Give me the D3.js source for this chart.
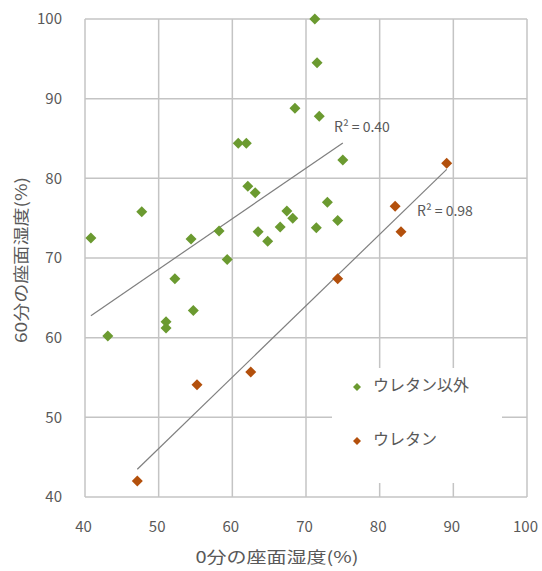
<!DOCTYPE html>
<html><head><meta charset="utf-8">
<script src="https://cdn.jsdelivr.net/npm/d3@7"></script>
<style>
html,body{margin:0;padding:0;background:#fff;}
text{font-family:"Noto Sans CJK JP","Noto Sans",sans-serif;fill:#595959;}
</style></head>
<body><svg id="c" width="542" height="571"></svg>
<script>
// ---- data ----
const seriesNames = ["ウレタン以外", "ウレタン"];
const otherX = [40.8,47.7,43.1,52.2,54.4,54.7,51.0,51.0,58.2,59.3,62.1,63.1,63.5,64.8,66.5,67.4,68.2,71.4,72.9,74.3,71.2,71.5,68.5,71.8,75.0,60.8,61.9];
const otherY = [72.5,75.8,60.2,67.4,72.4,63.4,62.0,61.2,73.4,69.8,79.0,78.2,73.3,72.1,73.9,75.9,75.0,73.8,77.0,74.7,100.0,94.5,88.8,87.8,82.3,84.4,84.4];
const urethaneX = [89.1,82.1,82.9,74.3,55.2,62.5,47.1];
const urethaneY = [81.9,76.5,73.3,67.4,54.1,55.7,42.0];
const r2Labels = ["R² = 0.40", "R² = 0.98"];
const xTicks = [40,50,60,70,80,90,100];
const yTicks = [40,50,60,70,80,90,100];
const xTitle = "0分の座面湿度(%)";
const yTitle = "60分の座面湿度(%)";
const colors = ["#6b9a30", "#b3500c"];

// ---- chart ----
const svg = d3.select("#c");
const x = d3.scaleLinear().domain([40,100]).range([85,527]);
const y = d3.scaleLinear().domain([40,100]).range([497,19]);
const grid = "#c4c4c4";

// grid
svg.append("g").selectAll("line").data(xTicks).join("line")
  .attr("x1",d=>x(d)).attr("x2",d=>x(d)).attr("y1",y(40)).attr("y2",y(100))
  .attr("stroke",grid).attr("stroke-width",1.5);
svg.append("g").selectAll("line").data(yTicks).join("line")
  .attr("y1",d=>y(d)).attr("y2",d=>y(d)).attr("x1",x(40)).attr("x2",x(100))
  .attr("stroke",grid).attr("stroke-width",1.5);

// axes tick labels
const xa = svg.append("g").attr("transform",`translate(-2,${y(40)})`)
  .call(d3.axisBottom(x).tickValues(xTicks).tickSize(0).tickPadding(24));
xa.select(".domain").remove();
xa.selectAll("text").style("font-size","15px").attr("fill","#595959");
const ya = svg.append("g").attr("transform",`translate(${x(40)},0)`)
  .call(d3.axisLeft(y).tickValues(yTicks).tickSize(0).tickPadding(23));
ya.select(".domain").remove();
ya.selectAll("text").style("font-size","15px").attr("fill","#595959");

// titles
svg.append("text").attr("x",277).attr("y",559).attr("text-anchor","middle")
  .attr("dominant-baseline","middle").style("font-size","16px")
  .attr("textLength",163).attr("lengthAdjust","spacingAndGlyphs").text(xTitle);
svg.append("text").attr("transform","translate(23,260) rotate(-90)").attr("text-anchor","middle")
  .attr("dominant-baseline","middle").style("font-size","16px")
  .attr("textLength",166).attr("lengthAdjust","spacingAndGlyphs").text(yTitle);

// regression
function fit(xs, ys){
  const n=xs.length, mx=d3.mean(xs), my=d3.mean(ys);
  let sxy=0,sxx=0;
  for(let i=0;i<n;i++){sxy+=(xs[i]-mx)*(ys[i]-my);sxx+=(xs[i]-mx)**2;}
  const b=sxy/sxx, a=my-b*mx;
  const x0=d3.min(xs), x1=d3.max(xs);
  return [[x0,a+b*x0],[x1,a+b*x1]];
}
const sets = [[otherX,otherY],[urethaneX,urethaneY]];
sets.forEach(([xs,ys])=>{
  const l = fit(xs,ys);
  svg.append("line").attr("x1",x(l[0][0])).attr("y1",y(l[0][1]))
    .attr("x2",x(l[1][0])).attr("y2",y(l[1][1]))
    .attr("stroke","#7f7f7f").attr("stroke-width",1.2);
});

// r2 labels
svg.append("text").attr("x",334).attr("y",128).attr("dominant-baseline","middle")
  .style("font-size","14px").text(r2Labels[0]);
svg.append("text").attr("x",417).attr("y",212).attr("dominant-baseline","middle")
  .style("font-size","14px").text(r2Labels[1]);

// points
const diamond = r => `M0,${-r}L${r},0L0,${r}L${-r},0Z`;
sets.forEach(([xs,ys],k)=>{
  svg.append("g").selectAll("path").data(xs.map((v,i)=>[v,ys[i]])).join("path")
    .attr("transform",d=>`translate(${x(d[0])},${y(d[1])})`)
    .attr("d",diamond(5.5)).attr("fill",colors[k]);
});

// legend
const lg = svg.append("g");
lg.append("rect").attr("x",332).attr("y",368).attr("width",170).attr("height",115).attr("fill","#fff");
seriesNames.forEach((s,i)=>{
  const yy = 387 + i*54;
  lg.append("path").attr("transform",`translate(357,${yy})`).attr("d",diamond(4)).attr("fill",colors[i]);
  lg.append("text").attr("x",373).attr("y",yy).attr("dominant-baseline","middle")
    .style("font-size","16px").text(s);
});
</script></body></html>
